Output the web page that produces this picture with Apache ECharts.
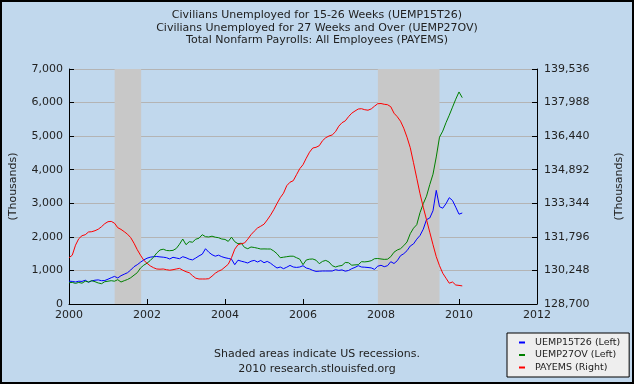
<!DOCTYPE html>
<html><head><meta charset="utf-8">
<script src="https://cdn.jsdelivr.net/npm/echarts@6/dist/echarts.min.js"></script>
<style>html,body{margin:0;padding:0;background:#c1d8ed}#c{width:634px;height:384px}</style>
</head><body><div id="c"></div>
<script>
const titleLines = [
  'Civilians Unemployed for 15-26 Weeks (UEMP15T26)',
  'Civilians Unemployed for 27 Weeks and Over (UEMP27OV)',
  'Total Nonfarm Payrolls: All Employees (PAYEMS)'
];
const noteLines = ['Shaded areas indicate US recessions.', '2010 research.stlouisfed.org'];
const seriesNames = ['UEMP15T26 (Left)', 'UEMP27OV (Left)', 'PAYEMS (Right)'];
const startYear = 2000; // monthly data, January 2000 onward

const uemp15t26 = [679,673,655,679,673,709,649,688,709,718,694,700,
739,783,822,775,843,888,932,1013,1111,1171,1245,1311,
1364,1394,1409,1415,1403,1394,1379,1341,1391,1370,1349,1409,
1379,1335,1314,1370,1433,1484,1647,1543,1469,1424,1454,1409,
1379,1358,1335,1171,1305,1275,1251,1221,1275,1299,1251,1296,
1230,1269,1215,1141,1072,1102,1052,1096,1150,1102,1090,1102,
1141,1072,1046,1001,971,977,983,983,983,983,1022,1001,
1016,977,998,1052,1090,1141,1102,1096,1087,1075,1031,1126,
1153,1111,1141,1260,1206,1290,1439,1498,1588,1728,1790,1930,
2041,2228,2511,2562,2779,3385,2899,2854,2988,3167,3083,2884,
2675,2711];

const uemp27ov = [635,643,614,643,620,679,655,694,664,626,605,664,
679,694,679,724,655,694,730,783,858,932,1072,1156,
1215,1296,1394,1519,1609,1632,1594,1588,1597,1653,1781,1936,
1767,1856,1841,1930,1960,2064,2005,1996,2020,1990,1975,1936,
1924,1865,1990,1856,1796,1811,1686,1647,1698,1683,1662,1638,
1641,1638,1638,1579,1498,1379,1394,1409,1424,1424,1379,1335,
1171,1311,1335,1341,1305,1201,1269,1299,1251,1141,1102,1132,
1147,1236,1230,1156,1165,1171,1260,1254,1266,1290,1349,1355,
1341,1329,1335,1409,1543,1609,1647,1737,1847,2094,2258,2362,
2720,2988,3211,3554,3867,4380,4970,5150,5401,5624,5863,6101,
6316,6146];

const payems = [130835,130950,131411,131711,131849,131895,132020,132034,132080,132149,132264,132403,
132495,132509,132426,132218,132140,132034,131918,131757,131503,131204,130950,130720,
130581,130457,130374,130314,130305,130314,130282,130259,130282,130314,130342,130259,
130189,130143,130005,129890,129853,129853,129853,129867,129982,130120,130212,130282,
130406,130535,130835,131227,131434,131480,131513,131688,131895,132057,132204,132287,
132380,132578,132795,133048,133334,133601,133809,134155,134316,134385,134662,134939,
135123,135423,135700,135893,135925,135999,136230,136368,136447,136497,136645,136899,
137060,137143,137337,137498,137599,137691,137705,137659,137636,137696,137821,137936,
137945,137908,137890,137798,137498,137337,137129,136806,136391,135907,135215,134501,
133786,133163,132587,132011,131434,130881,130466,130120,129890,129659,129714,129576,
129558,129535];

const recessions = [[2001.17, 2001.85], [2007.92, 2009.5]];

const xTicks = {min: 2000, max: 2012, step: 2};
const leftTicks = {min: 0, max: 7000, step: 1000};
const rightTicks = {min: 128700, max: 139536, step: 1548};

const fmt = v => String(Math.round(v)).replace(/\B(?=(\d{3})+(?!\d))/g, ',');
const toPairs = arr => arr.map((v, i) => [startYear + i / 12, v]);
const FONT = 'DejaVu Sans';
const txt = '#222';

const chart = echarts.init(document.getElementById('c'));
chart.setOption({
  animation: false,
  backgroundColor: '#c1d8ed',
  title: {
    text: titleLines.join('\n'), left: 'center', top: 4,
    textStyle: {fontFamily: FONT, fontSize: 11, fontWeight: 'normal', color: txt, lineHeight: 12.5}
  },
  grid: {left: 68, top: 69, width: 469, height: 235},
  legend: {
    orient: 'vertical', left: 507, top: 333,
    backgroundColor: '#eeeeee', borderColor: '#000', borderWidth: 1,
    padding: [4, 9, 4, 12], itemWidth: 6, itemHeight: 2, itemGap: 1.5, icon: 'rect',
    textStyle: {fontFamily: FONT, fontSize: 9.5, color: txt, lineHeight: 11, padding: [0, 0, 0, 5]},
    data: seriesNames
  },
  xAxis: {
    type: 'value', min: xTicks.min, max: xTicks.max, interval: xTicks.step,
    axisLine: {lineStyle: {color: '#000'}},
    axisTick: {inside: true, length: 5, lineStyle: {color: '#000'}},
    axisLabel: {formatter: v => String(v), color: txt, fontSize: 11, fontFamily: FONT, margin: 6},
    splitLine: {show: false}
  },
  yAxis: [{
    type: 'value', position: 'left', min: leftTicks.min, max: leftTicks.max, interval: leftTicks.step,
    axisLine: {show: true, lineStyle: {color: '#000'}},
    axisTick: {show: true, inside: true, length: 5, lineStyle: {color: '#000'}},
    splitLine: {show: true, lineStyle: {color: '#b4b4b4'}},
    axisLabel: {formatter: fmt, color: txt, fontSize: 11, fontFamily: FONT, margin: 6},
    name: '(Thousands)', nameLocation: 'middle', nameGap: 50, nameRotate: 90,
    nameTextStyle: {color: txt, fontSize: 11, fontFamily: FONT}
  }, {
    type: 'value', position: 'right', min: rightTicks.min, max: rightTicks.max, interval: rightTicks.step,
    axisLine: {show: true, lineStyle: {color: '#000'}},
    axisTick: {show: true, inside: true, length: 5, lineStyle: {color: '#000'}},
    splitLine: {show: false},
    axisLabel: {formatter: fmt, color: txt, fontSize: 11, fontFamily: FONT, margin: 7},
    name: '(Thousands)', nameLocation: 'middle', nameGap: 77, nameRotate: 90,
    nameTextStyle: {color: txt, fontSize: 11, fontFamily: FONT}
  }],
  series: [{
    name: seriesNames[0], type: 'line', data: toPairs(uemp15t26), yAxisIndex: 0,
    showSymbol: false, symbol: 'none', lineStyle: {width: 1, color: '#0000ff'}, itemStyle: {color: '#0000ff'},
    markArea: {silent: true, itemStyle: {color: '#c8c8c8'},
      data: recessions.map(r => [{xAxis: r[0]}, {xAxis: r[1]}])}
  }, {
    name: seriesNames[1], type: 'line', data: toPairs(uemp27ov), yAxisIndex: 0,
    showSymbol: false, symbol: 'none', lineStyle: {width: 1, color: '#008000'}, itemStyle: {color: '#008000'}
  }, {
    name: seriesNames[2], type: 'line', data: toPairs(payems), yAxisIndex: 1,
    showSymbol: false, symbol: 'none', lineStyle: {width: 1, color: '#ff0000'}, itemStyle: {color: '#ff0000'}
  }],
  graphic: [
    {type: 'text', left: 'center', top: 349, style: {text: noteLines[0], font: '11px "DejaVu Sans"', fill: txt}},
    {type: 'text', left: 'center', top: 364, style: {text: noteLines[1], font: '11px "DejaVu Sans"', fill: txt}},
    {type: 'rect', shape: {x: 1, y: 1, width: 632, height: 382}, style: {fill: null, stroke: '#000', lineWidth: 2}, z: 100}
  ]
});
</script></body></html>
